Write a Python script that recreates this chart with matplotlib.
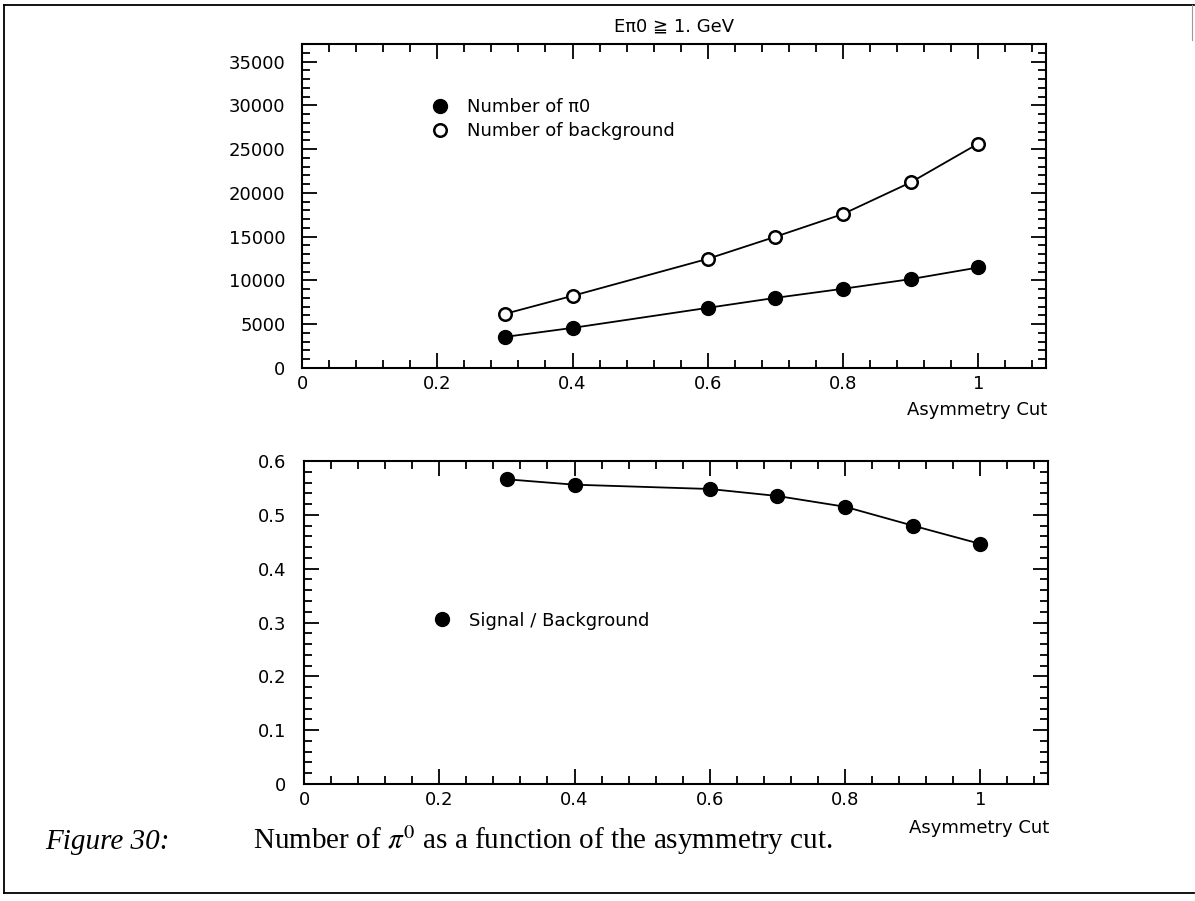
import matplotlib
matplotlib.use("Agg")
import matplotlib.pyplot as plt
from matplotlib.lines import Line2D
from matplotlib.ticker import MultipleLocator

# DATA
asym_cut = [0.3, 0.4, 0.6, 0.7, 0.8, 0.9, 1.0]
n_pi0 = [3550, 4580, 6870, 8010, 9050, 10150, 11480]
n_background = [6180, 8240, 12470, 14990, 17590, 21200, 25630]
signal_over_bg = [0.566, 0.556, 0.548, 0.535, 0.515, 0.480, 0.446]

x_ticks = [0, 0.2, 0.4, 0.6, 0.8, 1.0]
x_tick_labels = ["0", "0.2", "0.4", "0.6", "0.8", "1"]
top_y_ticks = [0, 5000, 10000, 15000, 20000, 25000, 30000, 35000]
bot_y_ticks = [0, 0.1, 0.2, 0.3, 0.4, 0.5, 0.6]
bot_y_tick_labels = ["0", "0.1", "0.2", "0.3", "0.4", "0.5", "0.6"]

plt.rcParams['font.family'] = ['DejaVu Sans']
plt.rcParams['mathtext.fontset'] = 'stix'

W, H = 1195, 901
fig = plt.figure(figsize=(W / 100, H / 100), dpi=100)


def frame(ax, ymax, ymin_step, ylab_pad):
    ax.set_xlim(0, 1.1)
    ax.set_ylim(0, ymax)
    for s in ax.spines.values():
        s.set_linewidth(1.5)
    ax.tick_params(which='both', direction='in', top=True, right=True,
                   width=1.3, labelsize=13)
    ax.tick_params(which='major', length=11)
    ax.tick_params(which='minor', length=6)
    ax.tick_params(axis='x', pad=5)
    ax.tick_params(axis='y', pad=ylab_pad)
    ax.xaxis.set_minor_locator(MultipleLocator(0.04))
    ax.yaxis.set_minor_locator(MultipleLocator(ymin_step))
    ax.set_xticks(x_ticks)
    ax.set_xticklabels(x_tick_labels)


# TOP PANEL
ax1 = fig.add_axes([302 / W, 1 - 368 / H, 744 / W, 324 / H])
frame(ax1, 37000, 1000, 12)
ax1.set_yticks(top_y_ticks)
ax1.set_yticklabels([str(v) for v in top_y_ticks])
ax1.plot(asym_cut, n_background, '-', color='black', lw=1.3, marker='o',
         ms=9, mfc='white', mec='black', mew=1.8)
ax1.plot(asym_cut, n_pi0, '-', color='black', lw=1.3, marker='o',
         ms=10, mfc='black', mec='black')
ax1.set_title("E\u03c00 \u2267 1. GeV", fontsize=13, pad=9)

h1 = [Line2D([], [], ls='none', marker='o', ms=10, mfc='black', mec='black'),
      Line2D([], [], ls='none', marker='o', ms=9, mfc='white', mec='black', mew=1.8)]
ax1.legend(h1, ["Number of \u03c00", "Number of background"], loc='upper left',
           bbox_to_anchor=(0.173, 0.833), frameon=False, fontsize=13,
           handlelength=1.0, handletextpad=1.0, borderpad=0, labelspacing=0.35,
           borderaxespad=0)

fig.text(1047 / W, 1 - 410 / H, "Asymmetry Cut", ha='right', va='center', fontsize=13)

# BOTTOM PANEL
ax2 = fig.add_axes([304 / W, 1 - 784 / H, 744 / W, 323 / H])
frame(ax2, 0.6, 0.02, 13)
ax2.set_yticks(bot_y_ticks)
ax2.set_yticklabels(bot_y_tick_labels)
ax2.plot(asym_cut, signal_over_bg, '-', color='black', lw=1.3, marker='o',
         ms=10, mfc='black', mec='black')

h2 = [Line2D([], [], ls='none', marker='o', ms=10, mfc='black', mec='black')]
ax2.legend(h2, ["Signal / Background"], loc='upper left',
           bbox_to_anchor=(0.173, 0.5334), frameon=False, fontsize=13,
           handlelength=1.0, handletextpad=1.0, borderpad=0, borderaxespad=0)

fig.text(1049 / W, 1 - 828 / H, "Asymmetry Cut", ha='right', va='center', fontsize=13)

# CAPTION
fig.text(45 / W, 1 - 849 / H, "Figure 30:", ha='left', va='baseline',
         fontsize=21, style='italic', family='Liberation Serif')
fig.text(253 / W, 1 - 849 / H, r"Number of $\pi^0$ as a function of the asymmetry cut.",
         ha='left', va='baseline', fontsize=21, family='Liberation Serif')

# PAGE FRAME
frame_kw = dict(color='black', lw=1.3, transform=fig.transFigure)
fig.add_artist(Line2D([4 / W, 4 / W], [1 - 5 / H, 1 - 893 / H], **frame_kw))
fig.add_artist(Line2D([4 / W, 1194 / W], [1 - 5 / H, 1 - 5 / H], **frame_kw))
fig.add_artist(Line2D([4 / W, 1194 / W], [1 - 893 / H, 1 - 893 / H], **frame_kw))
fig.add_artist(Line2D([1192 / W, 1192 / W], [1 - 5 / H, 1 - 40 / H],
                      color='0.6', lw=0.8, transform=fig.transFigure))

fig.savefig("out.png", dpi=100)
